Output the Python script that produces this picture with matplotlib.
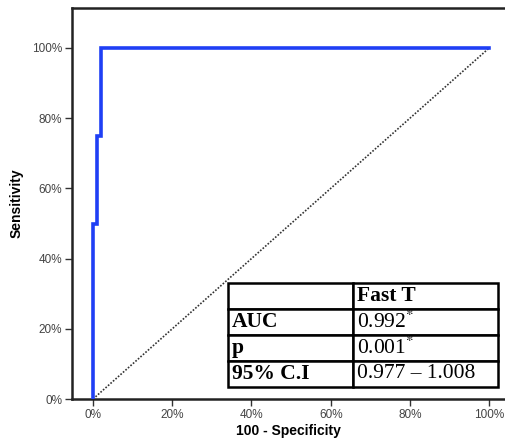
import matplotlib
matplotlib.use("Agg")
import matplotlib.pyplot as plt
from matplotlib.ticker import FuncFormatter

# ROC curve points (percent)
fpr = [0, 0, 1, 1, 2, 2, 100]
tpr = [0, 50, 50, 75, 75, 100, 100]
ref_x = [0, 100]
ref_y = [0, 100]

x_ticks = [0, 20, 40, 60, 80, 100]
y_ticks = [0, 20, 40, 60, 80, 100]

row_labels = ["", "AUC", "p", "95% C.I"]
col_values = ["Fast T", "0.992$^{*}$", "0.001$^{*}$", "0.977 \u2013 1.008"]

plt.rcParams.update({
    "font.family": ["Liberation Sans", "DejaVu Sans"],
    "mathtext.fontset": "stix",
})

fig = plt.figure(figsize=(5.05, 4.41), dpi=100)
ax = fig.add_axes([0.1426, 0.0952, 0.8574, 0.8867])

ax.plot(ref_x, ref_y, color="#333333", lw=1.2, ls=(0, (1, 1.0)), zorder=2)
ax.plot(fpr, tpr, color="#1f3ff5", lw=2.6, zorder=3, solid_joinstyle="miter")

ax.set_xlim(-5.3, 104.0)
ax.set_ylim(0, 111.4)
ax.set_xticks(x_ticks)
ax.set_yticks(y_ticks)
pct = FuncFormatter(lambda v, p: f"{v:.0f}%")
ax.xaxis.set_major_formatter(pct)
ax.yaxis.set_major_formatter(pct)
ax.tick_params(direction="out", length=5, width=1.0, colors="#333333",
               labelsize=8.5, labelcolor="#444444", pad=2)

for s in ("left", "bottom", "top"):
    ax.spines[s].set_linewidth(1.8)
    ax.spines[s].set_color("#222222")
ax.spines["right"].set_visible(False)

ax.set_xlabel("100 - Specificity", fontsize=10, fontweight="bold", labelpad=2)
ax.set_ylabel("Sensitivity", fontsize=10, fontweight="bold", labelpad=6)

# result table
cells = [[r, v] for r, v in zip(row_labels, col_values)]
tbl = ax.table(cellText=cells, cellLoc="left", colWidths=[0.463, 0.537],
               bbox=[0.360, 0.031, 0.624, 0.266], zorder=5)
tbl.auto_set_font_size(False)
for (r, c), cell in tbl.get_celld().items():
    cell.set_linewidth(1.8)
    cell.set_edgecolor("black")
    cell.set_facecolor("white")
    cell.PAD = 0.03
    t = cell.get_text()
    bold = (c == 0) or (r == 0)
    t.set_fontfamily(["Liberation Serif", "DejaVu Serif"])
    t.set_fontsize(15.5)
    t.set_fontweight("bold" if bold else "normal")

fig.savefig("out.png", dpi=100)
